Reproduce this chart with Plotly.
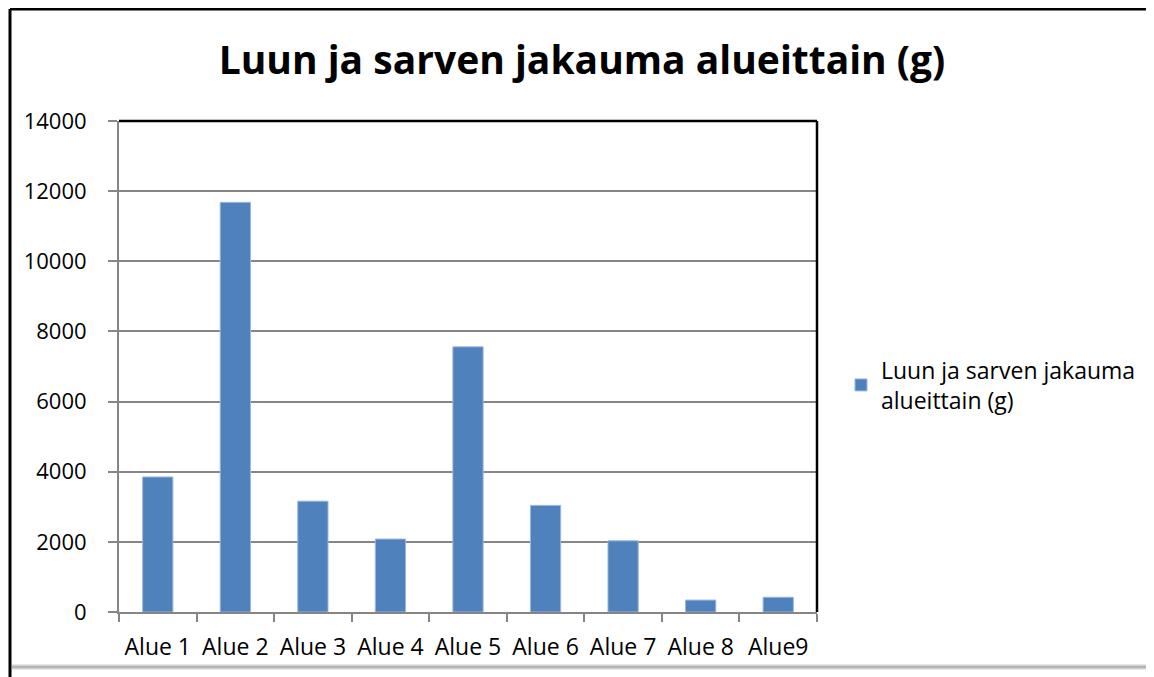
import plotly.graph_objects as go

categories = ["Alue 1", "Alue 2", "Alue 3", "Alue 4", "Alue 5", "Alue 6", "Alue 7", "Alue 8", "Alue9"]
values = [3850, 11680, 3160, 2080, 7560, 3040, 2030, 340, 420]
series_name = "Luun ja sarven jakauma<br>alueittain (g)"
title_text = "Luun ja sarven jakauma alueittain (g)"
y_ticks = [0, 2000, 4000, 6000, 8000, 10000, 12000, 14000]

OFF = 8  # page body margin
W, H = 1154 - OFF, 677 - OFF
L, R, T, B = 119 - OFF, 817 - OFF, 121 - OFF, 612 - OFF
pw, ph = R - L, B - T

def px(x):
    return (x - OFF - L) / pw

def py(y):
    return (B - (y - OFF)) / ph

font = "Open Sans"

fig = go.Figure()
fig.add_trace(go.Bar(
    x=categories, y=values, name=series_name,
    marker=dict(color="#4F81BD", line=dict(color="#9bb7dc", width=1)),
    showlegend=True,
))

shapes = [
    dict(type="line", xref="paper", yref="paper", x0=0, x1=1, y0=1, y1=1,
         line=dict(color="black", width=2.5)),
    dict(type="line", xref="paper", yref="paper", x0=1, x1=1, y0=0, y1=1,
         line=dict(color="black", width=2.5)),
    dict(type="line", xref="paper", yref="paper", x0=px(10), x1=px(1160), y0=py(9), y1=py(9),
         line=dict(color="black", width=3)),
    dict(type="line", xref="paper", yref="paper", x0=px(10), x1=px(10), y0=py(9), y1=py(690),
         line=dict(color="black", width=3)),
    dict(type="line", xref="paper", yref="paper", x0=px(12), x1=px(1160), y0=py(667), y1=py(667),
         line=dict(color="#d0d0d0", width=5)),
    dict(type="line", xref="paper", yref="paper", x0=px(12), x1=px(1160), y0=py(667), y1=py(667),
         line=dict(color="#b4b4b4", width=2)),
]

fig.update_layout(
    width=W, height=H,
    margin=dict(l=L, r=W - R, t=T, b=H - B, autoexpand=False),
    paper_bgcolor="white", plot_bgcolor="white",
    font=dict(family=font, size=22, color="black"),
    title=dict(text="<b>" + title_text + "</b>", font=dict(family=font, size=39, color="black"),
               x=(582 - OFF) / W, xref="container", xanchor="center",
               y=1 - (60 - OFF) / H, yref="container", yanchor="middle"),
    bargap=0.61,
    legend=dict(x=px(841), y=py(385), xanchor="left", yanchor="middle",
                font=dict(family=font, size=23, color="black"),
                bgcolor="rgba(0,0,0,0)", itemwidth=30, tracegroupgap=0),
    shapes=shapes,
    showlegend=True,
)

fig.update_xaxes(
    type="category", showgrid=False, showline=True, linecolor="#868686", linewidth=2,
    ticks="outside", tickson="boundaries", ticklen=8, tickcolor="#868686", tickwidth=2,
    tickfont=dict(family=font, size=23, color="black"), ticklabelstandoff=13,
)
fig.update_yaxes(
    range=[0, 14000], tickvals=y_ticks, tickformat="d", showgrid=True, gridcolor="#868686", gridwidth=1.5,
    showline=True, linecolor="#868686", linewidth=2, zeroline=False,
    ticks="outside", ticklen=9, tickcolor="#868686", tickwidth=2,
    tickfont=dict(family=font, size=22, color="black"), ticklabelstandoff=17,
)

fig.write_html("out.html")
